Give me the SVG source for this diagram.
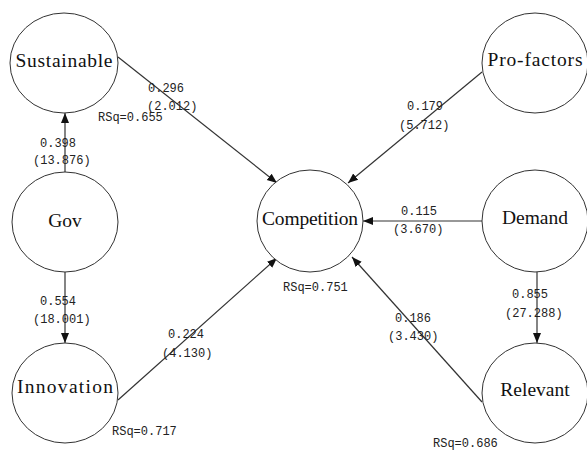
<svg xmlns="http://www.w3.org/2000/svg" width="587" height="451" viewBox="0 0 587 451">
<style>
.n{fill:#fff;stroke:#333;stroke-width:1}
.t{font-family:"Liberation Serif",serif;font-size:19.5px;fill:#111;text-anchor:middle}
.c{stroke:#333;stroke-width:1.2;fill:none;marker-end:url(#a)}
.l{font-family:"Liberation Mono",monospace;font-size:12px;fill:#222}
</style>
<defs>
<marker id="a" viewBox="0 0 10 10" refX="10" refY="5" markerWidth="10" markerHeight="10" markerUnits="userSpaceOnUse" orient="auto">
<path d="M0,1 L10,5 L0,9 z" fill="#111"/>
</marker>
</defs>
<g id="connectors">
<line class="c" x1="118" y1="57" x2="277" y2="183"/>
<line class="c" x1="65" y1="172" x2="65" y2="113"/>
<line class="c" x1="65" y1="272" x2="65" y2="343"/>
<line class="c" x1="118" y1="400" x2="277" y2="258"/>
<line class="c" x1="482" y1="72" x2="348" y2="183"/>
<line class="c" x1="482" y1="221" x2="363" y2="221"/>
<line class="c" x1="537" y1="272" x2="537" y2="343"/>
<line class="c" x1="482" y1="402" x2="352" y2="257"/>
<text class="l" x="148" y="92">0.296</text>
<text class="l" x="147" y="110">(2.012)</text>
<text class="l" x="40" y="147">0.398</text>
<text class="l" x="33" y="164">(13.876)</text>
<text class="l" x="40" y="305">0.554</text>
<text class="l" x="33" y="323">(18.001)</text>
<text class="l" x="168" y="338">0.224</text>
<text class="l" x="162" y="357">(4.130)</text>
<text class="l" x="407" y="110">0.179</text>
<text class="l" x="399" y="129">(5.712)</text>
<text class="l" x="401" y="215">0.115</text>
<text class="l" x="393" y="233">(3.670)</text>
<text class="l" x="512" y="298">0.855</text>
<text class="l" x="505" y="317">(27.288)</text>
<text class="l" x="395" y="322">0.186</text>
<text class="l" x="388" y="340">(3.430)</text>
</g>
<g id="Sustainable"><ellipse class="n" cx="64" cy="63" rx="54" ry="50"/><text class="t" x="64" y="67" textLength="97">Sustainable</text><text class="l" x="98" y="121">RSq=0.655</text></g>
<g id="Gov"><ellipse class="n" cx="65" cy="222" rx="53" ry="50"/><text class="t" x="65" y="227">Gov</text></g>
<g id="Innovation"><ellipse class="n" cx="65" cy="393" rx="53" ry="50"/><text class="t" x="65" y="393" textLength="96">Innovation</text><text class="l" x="112" y="435">RSq=0.717</text></g>
<g id="Competition"><ellipse class="n" cx="310" cy="221" rx="53" ry="51"/><text class="t" x="310" y="225" textLength="96">Competition</text><text class="l" x="283" y="291">RSq=0.751</text></g>
<g id="Pro-factors"><ellipse class="n" cx="535" cy="63" rx="53" ry="50"/><text class="t" x="535" y="66" textLength="95">Pro-factors</text></g>
<g id="Demand"><ellipse class="n" cx="535" cy="221" rx="53" ry="51"/><text class="t" x="535" y="224">Demand</text></g>
<g id="Relevant"><ellipse class="n" cx="535" cy="393" rx="53" ry="50"/><text class="t" x="535" y="396">Relevant</text><text class="l" x="433" y="447">RSq=0.686</text></g>
</svg>
